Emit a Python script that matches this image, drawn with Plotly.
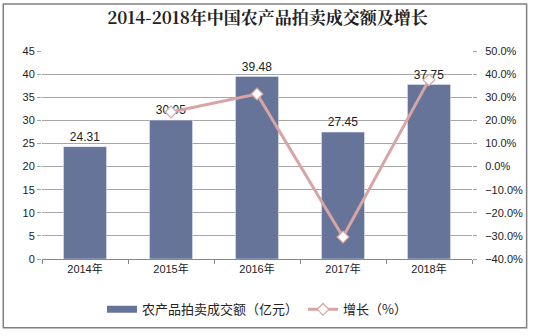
import plotly.graph_objects as go

years = ["2014年", "2015年", "2016年", "2017年", "2018年"]
amount = [24.31, 30.05, 39.48, 27.45, 37.75]
growth_years = ["2015年", "2016年", "2017年", "2018年"]
growth = [23.6, 31.4, -30.5, 37.5]

font_family = "Liberation Sans, Arial, Noto Sans CJK SC, sans-serif"
bar_color = "#67749A"
line_color = "#D8A5A5"

fig = go.Figure()
fig.add_trace(go.Bar(
    x=years, y=amount, name="农产品拍卖成交额（亿元）",
    marker=dict(color=bar_color), showlegend=False,
    text=[f"{v:.2f}" for v in amount], textposition="outside",
    textfont=dict(size=12, color="#222222"), cliponaxis=False,
))
# legend entry for bars drawn as a wide swatch
fig.add_trace(go.Scatter(
    x=[None], y=[None], name="农产品拍卖成交额（亿元）", mode="lines",
    line=dict(color=bar_color, width=7),
))
fig.add_trace(go.Scatter(
    x=growth_years, y=growth, name="增长（%）", yaxis="y2",
    mode="lines+markers",
    line=dict(color=line_color, width=3),
    marker=dict(symbol="diamond", size=9, color="white",
                line=dict(color=line_color, width=1.2)),
))

fig.update_layout(
    width=535, height=336,
    margin=dict(l=42, r=60, t=51, b=73),
    paper_bgcolor="white", plot_bgcolor="white",
    font=dict(family=font_family, size=11, color="#222222"),
    title=dict(text="<b>2014-2018年中国农产品拍卖成交额及增长</b>",
               x=0.5, xanchor="center", y=0.945, yanchor="middle",
               font=dict(family="Noto Serif CJK SC, DejaVu Serif, Noto Sans CJK SC, serif", size=17, color="#222222")),
    bargap=0.5,
    showlegend=True,
    legend=dict(orientation="h", x=0.5, xanchor="center", y=-0.17, yanchor="top",
                font=dict(size=13, family="Noto Sans CJK SC, sans-serif"), itemwidth=30,
                tracegroupgap=0),
    xaxis=dict(showline=True, linecolor="#888888", ticks="outside", tickcolor="#888888",
               ticklen=4, tickson="boundaries", showgrid=False,
               tickfont=dict(size=11, family="Liberation Sans, Noto Sans CJK SC")),
    yaxis=dict(range=[0, 45], dtick=5, showgrid=True, gridcolor="#A6A6A6", gridwidth=1,
               zeroline=False, showline=False, ticks="outside", ticklen=4, tickcolor="#A6A6A6",
               tickfont=dict(size=11)),
    yaxis2=dict(range=[-40, 50], dtick=10, overlaying="y", side="right", showgrid=False,
                zeroline=False, ticksuffix=".0%", ticks="outside", ticklen=4, tickcolor="#A6A6A6",
                ticklabelstandoff=6, tickfont=dict(size=11)),
)
fig.add_shape(type="rect", xref="paper", yref="paper",
              x0=-39/433, x1=1 + 55/433, y0=-70/212, y1=1 + 48/212,
              line=dict(color="#808080", width=1.5))

fig.write_html("out.html")
